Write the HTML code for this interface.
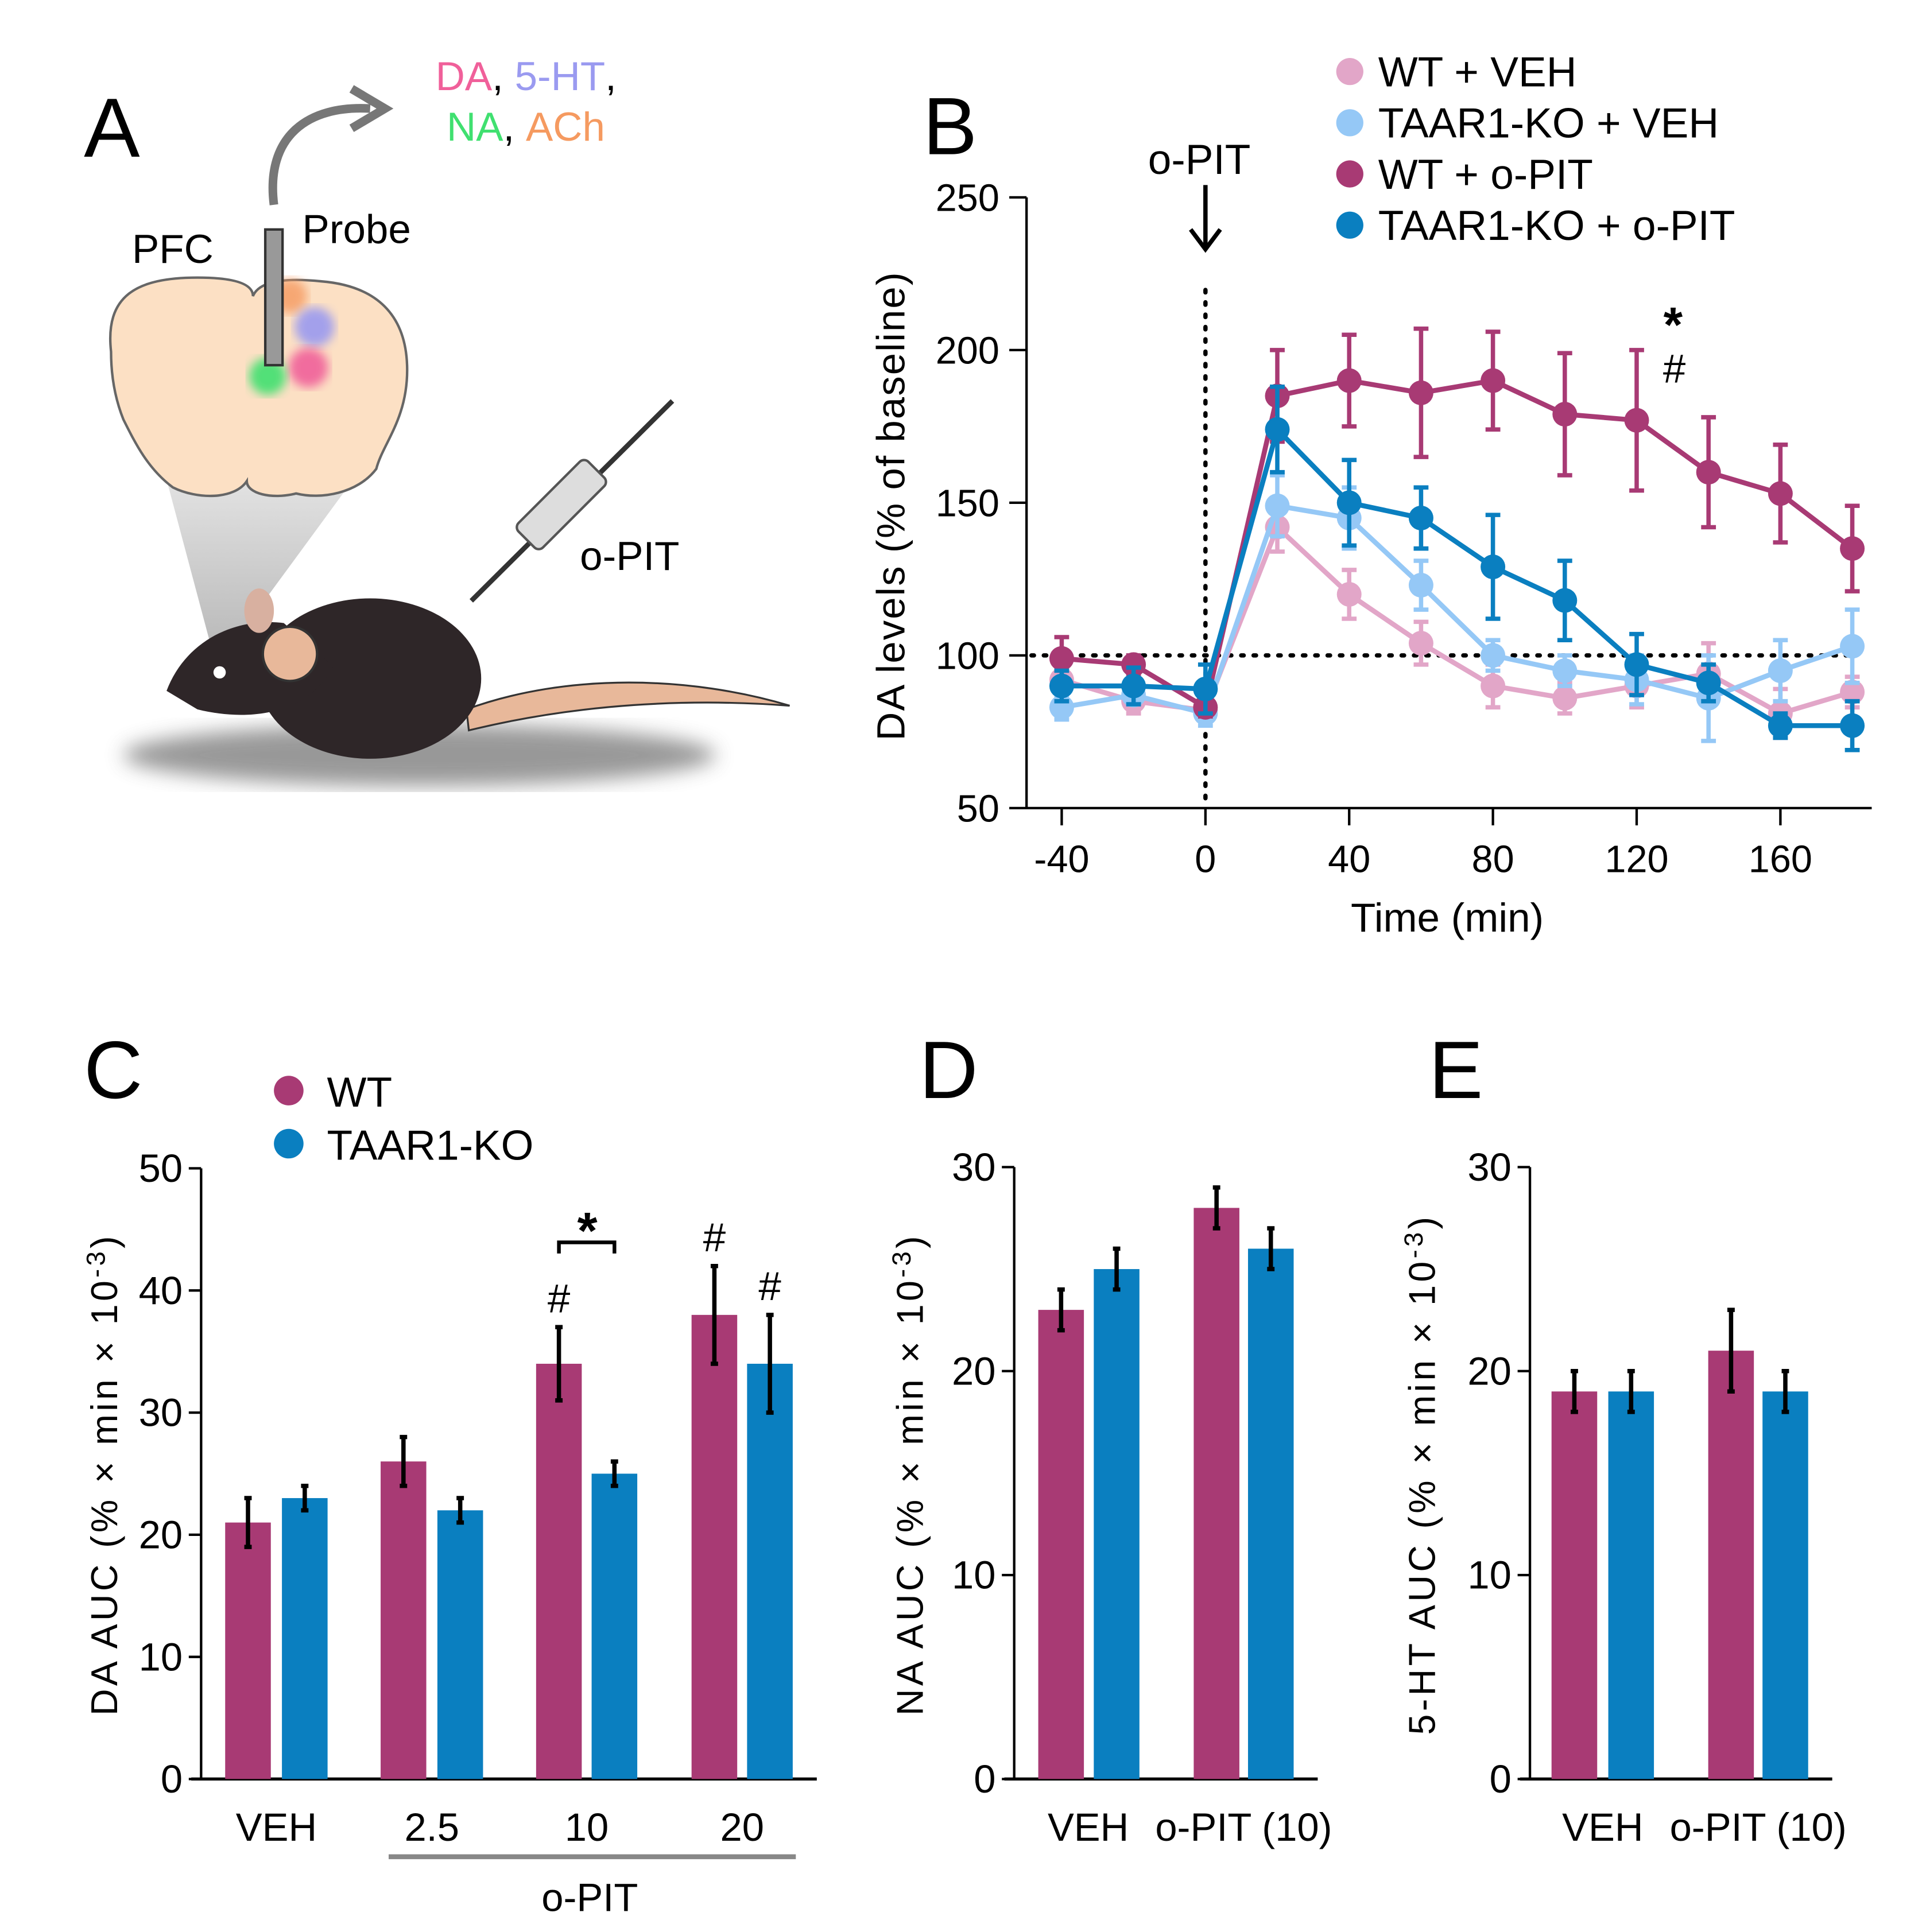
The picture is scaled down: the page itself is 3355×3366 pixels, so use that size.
<!DOCTYPE html>
<html><head><meta charset="utf-8"><style>
html,body{margin:0;padding:0;background:#fff;}
svg{display:block;font-family:"Liberation Sans",Arial,sans-serif;}
</style></head><body>
<svg id="fig" width="3355" height="3366" viewBox="0 0 1561 1566" preserveAspectRatio="none" xmlns="http://www.w3.org/2000/svg">
<defs>
<filter id="blur8"><feGaussianBlur stdDeviation="8"/></filter>
<filter id="blur4"><feGaussianBlur stdDeviation="4"/></filter>
<linearGradient id="cone" x1="0" y1="0" x2="0" y2="1"><stop offset="0" stop-color="#e8e8e8"/><stop offset="1" stop-color="#bbb"/></linearGradient>
</defs>

<g>
<text x="68" y="127" font-size="68">A</text>
<text x="353" y="73" font-size="33"><tspan fill="#f0609a">DA</tspan><tspan fill="#000">, </tspan><tspan fill="#9a9af0">5-HT</tspan><tspan fill="#000">,</tspan></text>
<text x="362" y="114" font-size="33"><tspan fill="#40e070">NA</tspan><tspan fill="#000">, </tspan><tspan fill="#f59a60">ACh</tspan></text>
<path d="M222,166 C215,110 250,85 300,88" fill="none" stroke="#777" stroke-width="7"/>
<path d="M285,72 L312,88 L285,104" fill="none" stroke="#777" stroke-width="7"/>
<text x="107" y="213" font-size="33">PFC</text>
<text x="245" y="197" font-size="33">Probe</text>
<polygon points="130,370 300,370 190,520 170,520" fill="url(#cone)"/>
<ellipse cx="340" cy="612" rx="240" ry="25" fill="#555" opacity="0.6" filter="url(#blur8)"/>
<path d="M378,575 C460,545 560,548 640,572 C560,566 470,570 380,592 Z" fill="#e8b89a" stroke="#333" stroke-width="1.5"/>
<ellipse cx="300" cy="550" rx="90" ry="65" fill="#2e2628"/>
<path d="M135,560 C150,520 190,500 230,505 L270,540 C250,580 200,585 160,575 Z" fill="#2e2628"/>
<ellipse cx="210" cy="495" rx="12" ry="18" fill="#d8b0a0"/>
<ellipse cx="235" cy="530" rx="22" ry="22" fill="#e8b89a" stroke="#333" stroke-width="2"/>
<circle cx="178" cy="545" r="5" fill="#fff"/>
<path d="M90,285 C85,240 110,225 160,225 C190,225 205,230 205,240 C210,228 230,225 260,228 C310,232 330,260 330,300 C330,340 310,360 305,380 C290,400 260,405 240,400 C220,405 200,400 200,390 C190,405 160,405 140,395 C120,380 110,360 100,340 C92,320 90,300 90,285 Z" fill="#fce0c4" stroke="#666" stroke-width="2"/>
<circle cx="235" cy="240" r="14" fill="#f59a60" opacity="0.8" filter="url(#blur4)"/>
<circle cx="255" cy="265" r="16" fill="#9a9af0" opacity="0.9" filter="url(#blur4)"/>
<circle cx="250" cy="298" r="16" fill="#f0609a" opacity="0.9" filter="url(#blur4)"/>
<circle cx="217" cy="305" r="15" fill="#40e070" opacity="0.9" filter="url(#blur4)"/>
<rect x="215" y="186" width="14" height="110" fill="#999" stroke="#333" stroke-width="2"/>
<line x1="382" y1="487" x2="545" y2="325" stroke="#333" stroke-width="4"/>
<rect x="415" y="395" width="80" height="28" rx="5" transform="rotate(-45 455 409)" fill="#ddd" stroke="#555" stroke-width="2"/>
<text x="470" y="462" font-size="33">o-PIT</text>
</g>

<text x="748" y="125" font-size="66">B</text>
<text x="68" y="890" font-size="66">C</text>
<text x="745" y="890" font-size="66">D</text>
<text x="1158" y="890" font-size="66">E</text>

<g id="gB"></g>
<g id="gC"></g>
<g id="gD"></g>
<g id="gE"></g>
</svg>
<script>
const times=[-40,-20,0,20,40,60,80,100,120,140,160,180];
const wtVeh=[92,85,82,142,120,104,90,86,90,94,81,88];
const wtVehErr=[4,4,3,8,8,7,7,5,7,10,8,5];
const koVeh=[83,87,81,149,145,123,100,95,92,86,95,103];
const koVehErr=[4,3,4,10,10,8,5,5,8,14,10,12];
const wtPit=[99,97,83,185,190,186,190,179,177,160,153,135];
const wtPitErr=[7,3,3,15,15,21,16,20,23,18,16,14];
const koPit=[90,90,89,174,150,145,129,118,97,91,77,77];
const koPitErr=[5,6,8,14,14,10,17,13,10,6,4,8];
const bYTicks=[50,100,150,200,250];
const bXTicks=[-40,0,40,80,120,160];

const cCats=["VEH","2.5","10","20"];
const cWT=[21,26,34,38];
const cWTErr=[2,2,3,4];
const cKO=[23,22,25,34];
const cKOErr=[1,1,1,4];
const cYTicks=[0,10,20,30,40,50];

const dWT=[23,28];
const dWTErr=[1,1];
const dKO=[25,26];
const dKOErr=[1,1];
const eWT=[19,21];
const eWTErr=[1,2];
const eKO=[19,19];
const eKOErr=[1,1];
const deCats=["VEH","o-PIT (10)"];
const deYTicks=[0,10,20,30];

const NS="http://www.w3.org/2000/svg";
function mk(p,tag,a,txt){const e=document.createElementNS(NS,tag);for(const k in a)e.setAttribute(k,a[k]);if(txt!==undefined)e.textContent=txt;p.appendChild(e);return e;}
const WTC="#a83a74",KOC="#0a7fc0",WTL="#e2a6c8",KOL="#95c8f6";

(function(){
const g=document.getElementById('gB');
const X=t=>977+(t)*(116.5/40);
const Y=v=>655-(v-50)*(495/200);
let e;
e=mk(g,'line',{x1:832,y1:Y(250),x2:832,y2:655,stroke:'#000','stroke-width':2});

e=mk(g,'line',{x1:831,y1:655,x2:1517,y2:655,stroke:'#000','stroke-width':2});

bYTicks.forEach(v=>{mk(g,'line',{x1:818,y1:Y(v),x2:832,y2:Y(v),stroke:'#000','stroke-width':2});
e=mk(g,'text',{x:810,y:Y(v)+11,'font-size':31,'text-anchor':'end'},v);
});
bXTicks.forEach(v=>{mk(g,'line',{x1:X(v),y1:655,x2:X(v),y2:669,stroke:'#000','stroke-width':2});
e=mk(g,'text',{x:X(v),y:707,'font-size':31,'text-anchor':'middle'},v);
});
e=mk(g,'text',{x:1173,y:755,'font-size':33,'text-anchor':'middle'},'Time (min)');

e=mk(g,'text',{x:0,y:0,'font-size':32,'text-anchor':'middle',transform:'translate(733,410) rotate(-90)','letter-spacing':'1'},'DA levels (% of baseline)');

e=mk(g,'line',{x1:836,y1:Y(100),x2:1500,y2:Y(100),stroke:'#000','stroke-width':3.5,'stroke-dasharray':'2 8','stroke-linecap':'round'});

e=mk(g,'line',{x1:X(0),y1:235,x2:X(0),y2:655,stroke:'#000','stroke-width':3.5,'stroke-dasharray':'2 8','stroke-linecap':'round'});

e=mk(g,'text',{x:X(0)-5,y:141,'font-size':34,'text-anchor':'middle'},'o-PIT');

e=mk(g,'path',{d:`M${X(0)},150 L${X(0)},200 M${X(0)-12},186 L${X(0)},202 L${X(0)+12},186`,stroke:'#000','stroke-width':3.5,fill:'none'});

const series=[[wtVeh,wtVehErr,WTL,'wt-veh'],[koVeh,koVehErr,KOL,'ko-veh'],[wtPit,wtPitErr,WTC,'wt-opit'],[koPit,koPitErr,KOC,'ko-opit']];
series.forEach(([vals,errs,col,nm])=>{
 const sg=mk(g,'g',{});
 
 vals.forEach((v,i)=>{const x=X(times[i]);
  e=mk(sg,'path',{d:`M${x},${Y(v+errs[i])} L${x},${Y(v-errs[i])} M${x-6},${Y(v+errs[i])} L${x+6},${Y(v+errs[i])} M${x-6},${Y(v-errs[i])} L${x+6},${Y(v-errs[i])}`,stroke:col,'stroke-width':3.5,fill:'none'});
  });
 e=mk(sg,'polyline',{points:vals.map((v,i)=>X(times[i])+','+Y(v)).join(' '),fill:'none',stroke:col,'stroke-width':4});
 
 vals.forEach((v,i)=>{e=mk(sg,'circle',{cx:X(times[i]),cy:Y(v),r:10,fill:col});
  });
});
e=mk(g,'text',{x:1356,y:277,'font-size':40,'text-anchor':'middle','font-weight':'bold'},'*');

e=mk(g,'text',{x:1357,y:310,'font-size':33,'text-anchor':'middle'},'#');

const leg=[['WT + VEH',WTL],['TAAR1-KO + VEH',KOL],['WT + o-PIT',WTC],['TAAR1-KO + o-PIT',KOC]];
leg.forEach(([t,c],i)=>{const y=58+i*41.5;
 e=mk(g,'circle',{cx:1094,cy:y,r:11,fill:c});
 e=mk(g,'text',{x:1117,y:y+12,'font-size':34},t);});
})();

function barPanel(id,axX,axEnd,top,max,ticks,wt,wtE,ko,koE,centersWT,centersKO,title,titleX,pre){
 const g=document.getElementById(id);
 const Y=v=>1442-v*(1442-top)/max;
 let e;
 e=mk(g,'line',{x1:axX,y1:top,x2:axX,y2:1442,stroke:'#000','stroke-width':2});
 e=mk(g,'line',{x1:axX-8,y1:1442,x2:axEnd,y2:1442,stroke:'#000','stroke-width':2.5});
 ticks.forEach(v=>{mk(g,'line',{x1:axX-10,y1:Y(v),x2:axX,y2:Y(v),stroke:'#000','stroke-width':2});
  e=mk(g,'text',{x:axX-15,y:Y(v)+11,'font-size':32,'text-anchor':'end'},v);});
 const bw=37;
 const draw=(vals,errs,cents,col,nm)=>vals.forEach((v,i)=>{const c=cents[i];
  e=mk(g,'rect',{x:c-bw/2,y:Y(v),width:bw,height:1442-Y(v),fill:col});
  e=mk(g,'path',{d:`M${c},${Y(v+errs[i])} L${c},${Y(v-errs[i])} M${c-3},${Y(v+errs[i])} L${c+3},${Y(v+errs[i])} M${c-3},${Y(v-errs[i])} L${c+3},${Y(v-errs[i])}`,stroke:'#000','stroke-width':3.5,fill:'none'});
  });
 draw(wt,wtE,centersWT,WTC,'wt');draw(ko,koE,centersKO,KOC,'ko');
 e=mk(g,'text',{x:0,y:0,'font-size':30,'text-anchor':'middle','letter-spacing':'2.5',transform:`translate(${titleX},1195) rotate(-90)`});
 e.innerHTML=title;
 
 return {g,Y};
}
(function(){
 const cw=[201,327,453,579], ck=[247,373,498,624];
 const r=barPanel('gC',163,662,947,50,cYTicks,cWT,cWTErr,cKO,cKOErr,cw,ck,'DA  AUC (% × min × 10<tspan dy="-10" font-size="21">-3</tspan><tspan dy="10">)</tspan>',95,'c');
 const g=r.g,Y=r.Y;let e;
 cCats.forEach((t,i)=>{e=mk(g,'text',{x:(cw[i]+ck[i])/2,y:1492,'font-size':32,'text-anchor':'middle'},t);});
 e=mk(g,'line',{x1:315,y1:1505,x2:645,y2:1505,stroke:'#888','stroke-width':4});
 e=mk(g,'text',{x:478,y:1549,'font-size':32,'text-anchor':'middle'},'o-PIT');
 [[cw[2],cWT[2]+cWTErr[2]],[cw[3],cWT[3]+cWTErr[3]],[ck[3],cKO[3]+cKOErr[3]]].forEach(([x,v])=>{e=mk(g,'text',{x:x,y:Y(v)-12,'font-size':33,'text-anchor':'middle'},'#');});
 e=mk(g,'path',{d:'M453,1016 L453,1007 L498,1007 L498,1016',stroke:'#000','stroke-width':3,fill:'none'});
 e=mk(g,'text',{x:476,y:1012,'font-size':42,'text-anchor':'middle','font-weight':'bold'},'*');
 e=mk(g,'circle',{cx:234,cy:884,r:12,fill:WTC});
 e=mk(g,'text',{x:265,y:897,'font-size':34},'WT');
 e=mk(g,'circle',{cx:234,cy:927,r:12,fill:KOC});
 e=mk(g,'text',{x:265,y:940,'font-size':34},'TAAR1-KO');
})();
(function(){
 const dw=[860,986],dk=[905,1030];
 const r=barPanel('gD',822,1068,946,30,deYTicks,dWT,dWTErr,dKO,dKOErr,dw,dk,'NA AUC (% × min × 10<tspan dy="-10" font-size="21">-3</tspan><tspan dy="10">)</tspan>',748,'d');
 const lx=[882,1008];
 deCats.forEach((t,i)=>{const e=mk(r.g,'text',{x:lx[i],y:1492,'font-size':32,'text-anchor':'middle'},t);});
 const ew=[1276,1403],ek=[1322,1447];
 const r2=barPanel('gE',1240,1485,946,30,deYTicks,eWT,eWTErr,eKO,eKOErr,ew,ek,'5-HT AUC (% × min × 10<tspan dy="-10" font-size="21">-3</tspan><tspan dy="10">)</tspan>',1163,'e');
 const lx2=[1299,1425];
 deCats.forEach((t,i)=>{const e=mk(r2.g,'text',{x:lx2[i],y:1492,'font-size':32,'text-anchor':'middle'},t);});
})();
</script>
</body></html>
